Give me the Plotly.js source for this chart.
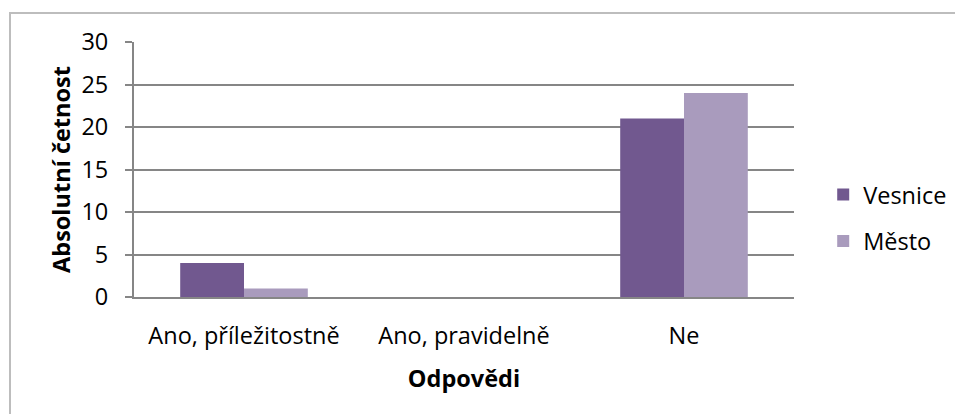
<!DOCTYPE html>
<html>
<head>
<meta charset="utf-8">
<script src="https://cdn.plot.ly/plotly-3.0.1.min.js"></script>
<style>
  html, body { margin: 0; padding: 0; background: #fff; }
  #wrap { position: relative; width: 955px; height: 414px; overflow: hidden; }
  #chart { position: absolute; left: 0; top: 0; width: 955px; height: 414px; }
  #frame { position: absolute; left: 9px; top: 12px; width: 960px; height: 420px;
           border-left: 2px solid #bdbdbd; border-top: 2px solid #bdbdbd; pointer-events: none; }
</style>
</head>
<body>
<div id="wrap">
  <div id="chart"></div>
  <div id="frame"></div>
</div>
<script>
const categories = ["Ano, příležitostně", "Ano, pravidelně", "Ne"];
const seriesNames = ["Vesnice", "Město"];
const vesnice = [4, 0, 21];
const mesto = [1, 0, 24];
const yTicks = [0, 5, 10, 15, 20, 25, 30];

const fontFam = "'Open Sans', sans-serif";
const fs = 23.5;

const traces = [
  { type: "bar", x: categories, y: vesnice, name: seriesNames[0], legendgroup: "a",
    marker: { color: "#71588F" }, hoverinfo: "none" },
  { type: "bar", x: categories, y: mesto, name: seriesNames[1], legendgroup: "b",
    marker: { color: "#A99BBD" }, hoverinfo: "none" }
];

const layout = {
  width: 955, height: 414,
  margin: { l: 134, r: 161, t: 41.5, b: 116.5, pad: 0, autoexpand: false },
  paper_bgcolor: "#ffffff", plot_bgcolor: "#ffffff",
  barmode: "group", bargap: 0.42, bargroupgap: 0,
  font: { family: fontFam, size: fs, color: "#000000" },
  showlegend: true,
  legend: { x: 0.862, xanchor: "left", xref: "container", y: 0.473, yanchor: "middle", yref: "container",
            font: { family: fontFam, size: fs, color: "#000" },
            tracegroupgap: 13, traceorder: "grouped", itemwidth: 30, bgcolor: "rgba(0,0,0,0)" },
  xaxis: {
    type: "category", showline: true, linecolor: "#868686", linewidth: 2,
    ticks: "", showgrid: false, zeroline: false, ticklabelstandoff: 17, automargin: false,
    tickfont: { family: fontFam, size: fs, color: "#000" },
    title: { text: "<b>Odpovědi</b>", font: { family: fontFam, size: fs, color: "#000" }, standoff: 20 }
  },
  yaxis: {
    range: [0, 30], tickvals: yTicks, ticktext: yTicks.map(String),
    showgrid: true, gridcolor: "#868686", gridwidth: 2,
    showline: true, linecolor: "#868686", linewidth: 2,
    ticks: "outside", ticklen: 7, tickcolor: "#868686", tickwidth: 2,
    zeroline: false, ticklabelstandoff: 12, automargin: false,
    tickfont: { family: fontFam, size: fs, color: "#000" },
    title: { text: "<b>Absolutní četnost</b>", font: { family: fontFam, size: fs, color: "#000" }, standoff: 4 }
  }
};

Plotly.newPlot("chart", traces, layout, { staticPlot: true, displayModeBar: false });
</script>
</body>
</html>
